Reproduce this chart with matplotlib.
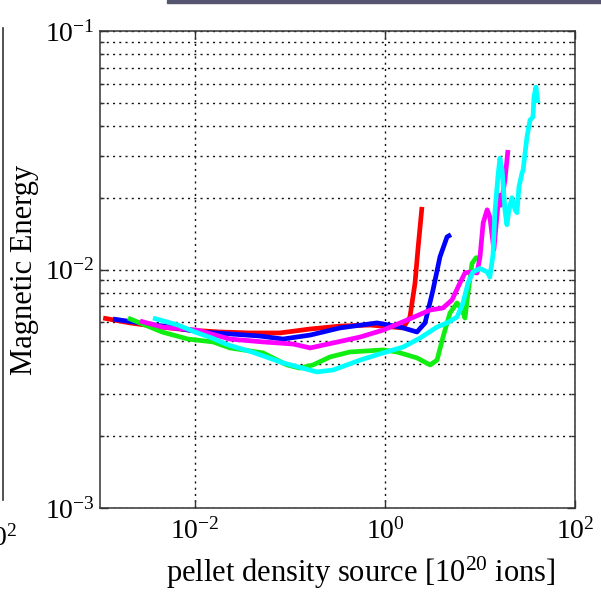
import matplotlib
matplotlib.use('Agg')
import matplotlib.pyplot as plt
from matplotlib.ticker import FixedLocator, FixedFormatter, LogLocator, NullLocator, NullFormatter
from matplotlib.lines import Line2D
from matplotlib.patches import Rectangle

# curves (pellet source, magnetic energy)
red_x = [1.08e-3, 2.07e-3, 4.29e-3, 8.85e-3, 0.0183, 0.0379, 0.0785, 0.163, 0.336, 0.695,
         1.55, 1.83, 2.07, 2.22, 2.45]
red_y = [6.26e-3, 5.97e-3, 5.74e-3, 5.57e-3, 5.47e-3, 5.42e-3, 5.42e-3, 5.63e-3, 5.79e-3, 5.85e-3,
         5.69e-3, 6.32e-3, 8.78e-3, 0.0121, 0.0183]

blue_x = [1.37e-3, 2.64e-3, 5.46e-3, 0.0113, 0.0233, 0.0483, 0.0843, 0.163, 0.336, 0.824,
          1.44, 2.17, 2.64, 3.20, 3.79, 4.50, 4.95]
blue_y = [6.20e-3, 5.97e-3, 5.74e-3, 5.47e-3, 5.37e-3, 5.26e-3, 5.11e-3, 5.31e-3, 5.69e-3, 5.97e-3,
          5.74e-3, 5.47e-3, 5.97e-3, 8.20e-3, 0.0113, 0.0137, 0.0140]

green_x = [1.97e-3, 4.50e-3, 8.43e-3, 0.0155, 0.0233, 0.0520, 0.0929, 0.127, 0.175, 0.264,
           0.428, 0.953, 1.34, 2.17, 2.98, 3.53, 4.08, 4.83, 5.73, 6.47, 6.95, 7.48, 8.24,
           9.08, 9.75]
green_y = [6.26e-3, 5.47e-3, 5.11e-3, 4.97e-3, 4.69e-3, 4.47e-3, 3.98e-3, 3.86e-3, 3.98e-3, 4.30e-3,
           4.51e-3, 4.60e-3, 4.51e-3, 4.26e-3, 3.98e-3, 4.17e-3, 5.21e-3, 6.57e-3, 7.24e-3,
           6.76e-3, 6.26e-3, 7.97e-3, 0.0106, 0.0112, 0.0112]

magenta_x = [2.64e-3, 4.50e-3, 0.0105, 0.0233, 0.0520, 0.108, 0.163, 0.284, 0.546, 0.953,
             1.71, 2.98, 4.08, 5.07, 6.15, 6.95, 7.85, 9.30, 10.0, 10.8, 11.9, 12.7, 14.0,
             15.8, 16.6, 18.3, 19.7]
magenta_y = [6.08e-3, 5.74e-3, 5.57e-3, 5.11e-3, 4.97e-3, 4.87e-3, 4.69e-3, 4.92e-3, 5.21e-3,
             5.57e-3, 6.14e-3, 6.76e-3, 6.90e-3, 7.45e-3, 8.78e-3, 9.67e-3, 9.76e-3, 9.67e-3,
             0.0113, 0.0157, 0.0178, 0.0166, 0.0121, 0.0205, 0.0186, 0.0237, 0.0317]

cyan_x = [3.61e-3, 6.62e-3, 0.0100, 0.0151, 0.0222, 0.0398, 0.0843, 0.192, 0.284, 0.546,
          0.953, 1.55, 2.34, 3.53, 4.50, 5.73, 6.62, 7.48, 8.43, 10.0, 11.9, 12.7, 13.7,
          14.4, 15.5, 16.2, 17.1, 18.3, 19.2, 20.2, 21.7, 23.4, 24.5, 25.7, 27.7, 28.4,
          31.2, 33.6, 36.1, 37.0, 38.8, 40.8]
cyan_y = [6.26e-3, 5.85e-3, 5.47e-3, 5.16e-3, 4.83e-3, 4.51e-3, 4.06e-3, 3.72e-3, 3.79e-3, 4.17e-3,
          4.47e-3, 4.73e-3, 5.16e-3, 5.74e-3, 5.97e-3, 6.32e-3, 7.24e-3, 8.78e-3, 9.76e-3,
          0.0101, 9.76e-3, 9.30e-3, 0.0115, 0.0178, 0.0249, 0.0293, 0.0261, 0.0178, 0.0154,
          0.0178, 0.0200, 0.0178, 0.0173, 0.0222, 0.0254, 0.0261, 0.0359, 0.0423, 0.0436,
          0.0529, 0.0582, 0.0499]

x_ticks = [1e-2, 1e0, 1e2]
x_tick_labels = [r'$\mathregular{10^{-2}}$', r'$\mathregular{10^{0}}$', r'$\mathregular{10^{2}}$']
y_ticks = [1e-3, 1e-2, 1e-1]
y_tick_labels = [r'$\mathregular{10^{-3}}$', r'$\mathregular{10^{-2}}$', r'$\mathregular{10^{-1}}$']

plt.rcParams['font.family'] = ['Liberation Serif', 'DejaVu Serif']

fig = plt.figure(figsize=(6.01, 6.01), dpi=100)
ax = fig.add_axes([100 / 601, 93 / 601, 475 / 601, 477 / 601])

series = [(red_x, red_y, '#ff0000'), (blue_x, blue_y, '#0000ff'), (green_x, green_y, '#11ee11'),
          (magenta_x, magenta_y, '#ff00ff'), (cyan_x, cyan_y, '#00ffff')]
for xs, ys, c in series:
    ax.plot(xs, ys, color=c, lw=3.4, solid_joinstyle='round', solid_capstyle='butt', zorder=3)

ax.set_xscale('log')
ax.set_yscale('log')
ax.set_xlim(1e-3, 1e2)
ax.set_ylim(1e-3, 1e-1)

ax.xaxis.set_major_locator(FixedLocator(x_ticks))
ax.xaxis.set_major_formatter(FixedFormatter(x_tick_labels))
ax.xaxis.set_minor_locator(NullLocator())
ax.yaxis.set_major_locator(FixedLocator(y_ticks))
ax.yaxis.set_major_formatter(FixedFormatter(y_tick_labels))
ax.yaxis.set_minor_locator(LogLocator(base=10, subs=range(2, 10)))
ax.yaxis.set_minor_formatter(NullFormatter())

ax.tick_params(which='both', direction='in', top=True, right=True, color='#333333', width=1)
ax.tick_params(which='major', length=6)
ax.tick_params(which='minor', length=3)
ax.tick_params(axis='x', labelsize=20, pad=7)
ax.tick_params(axis='y', labelsize=20, pad=4)

grid_style = dict(color='#111111', linestyle=(0, (1.5, 3)), linewidth=1.0)
ax.grid(True, which='major', axis='x', **grid_style)
ax.grid(True, which='both', axis='y', **grid_style)
ax.set_axisbelow(True)

for sp in ax.spines.values():
    sp.set_color('#333333')
    sp.set_linewidth(1.1)

ax.set_xlabel(r'pellet density source [$\mathregular{10^{20}}$ ions]', fontsize=22)
ax.xaxis.set_label_coords(0.549, -0.098)
ax.set_ylabel('Magnetic Energy', fontsize=22)
ax.yaxis.set_label_coords(-0.128, 0.5)

# bits of the neighbouring panel and the slide bar that are cut into the picture
fig.add_artist(Line2D([3 / 601, 3 / 601], [1 - 28 / 601, 1 - 500 / 601], color='#333333', lw=1.2))
fig.add_artist(Rectangle((167 / 601, 1 - 2.5 / 601), 1, 2.5 / 601, color='#555570',
                         transform=fig.transFigure))
fig.text(18 / 601, 1 - 546 / 601, r'$\mathregular{10^{2}}$', ha='right', va='baseline', fontsize=20)

fig.savefig('out.png', dpi=100)
